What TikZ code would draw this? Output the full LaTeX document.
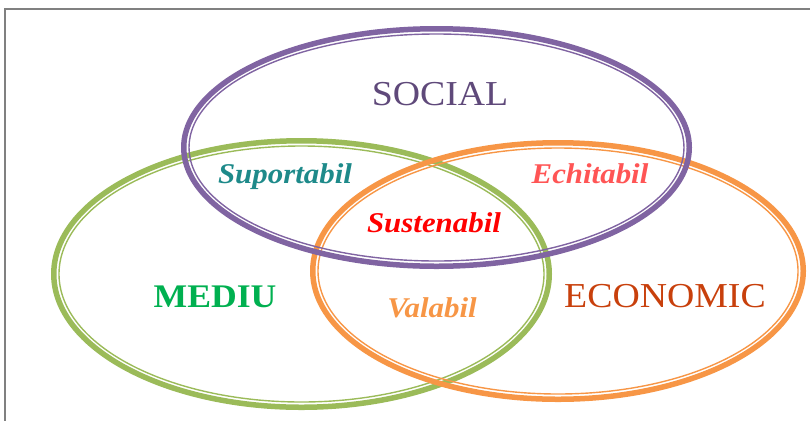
\documentclass[tikz,border=0pt]{standalone}
\usepackage{fontspec}
\setmainfont{Liberation Serif}[FakeStretch=1.08]
\usepackage{xcolor}
\usetikzlibrary{positioning}
\definecolor{socialc}{HTML}{8064A2}
\definecolor{mediuc}{HTML}{9BBB59}
\definecolor{econc}{HTML}{F79646}
\definecolor{socialt}{HTML}{5F497A}
\definecolor{mediut}{HTML}{00B050}
\definecolor{econt}{HTML}{C8400C}
\definecolor{suportt}{HTML}{1E8A8A}
\definecolor{echitt}{HTML}{FF5555}
\definecolor{sustent}{HTML}{FF0000}
\definecolor{valabt}{HTML}{F79646}
\tikzset{
  rimout/.style={line width=5.5pt},
  rimin/.style={line width=1.4pt},
  capl/.style={inner sep=0pt, anchor=base, font=\fontsize{35}{40}\selectfont},
  capb/.style={capl, font=\fontsize{33}{40}\selectfont\bfseries},
  itl/.style={inner sep=0pt, anchor=base, font=\fontsize{28.6}{34}\selectfont\bfseries\itshape},
}
\begin{document}
\begin{tikzpicture}[x=1pt, y=-1pt]
\useasboundingbox (0,0) rectangle (810,421);
% frame
\draw[line width=2pt, gray] (810,8.5) -- (4.5,8.5) -- (4.5,421);
% MEDIU
\draw[rimout, mediuc] (301.5,274) ellipse [x radius=247.75pt, y radius=133.25pt];
\draw[rimin, mediuc] (301.5,274) ellipse [x radius=242.5pt, y radius=128pt];
% ECONOMIC
\draw[rimout, econc] (558,271) ellipse [x radius=245.25pt, y radius=128.25pt];
\draw[rimin, econc] (558,271) ellipse [x radius=240pt, y radius=123pt];
% SOCIAL
\draw[rimout, socialc] (436.5,147.5) ellipse [x radius=252.75pt, y radius=118.75pt];
\draw[rimin, socialc] (436.5,147.5) ellipse [x radius=247.5pt, y radius=113.5pt];
% labels
\node[capl, socialt] (social) at (440,105) {SOCIAL};
\node[capb, mediut] (mediu) at (215,307) {MEDIU};
\node[capl, econt] (econ) at (665,307) {ECONOMIC};
\node[itl, suportt] (suport) at (285,183) {Suportabil};
\node[itl, echitt] (echit) at (590,183) {Echitabil};
\node[itl, sustent] (susten) at (434,232) {Sustenabil};
\node[itl, valabt] (valab) at (432,317) {Valabil};
\end{tikzpicture}
\end{document}
